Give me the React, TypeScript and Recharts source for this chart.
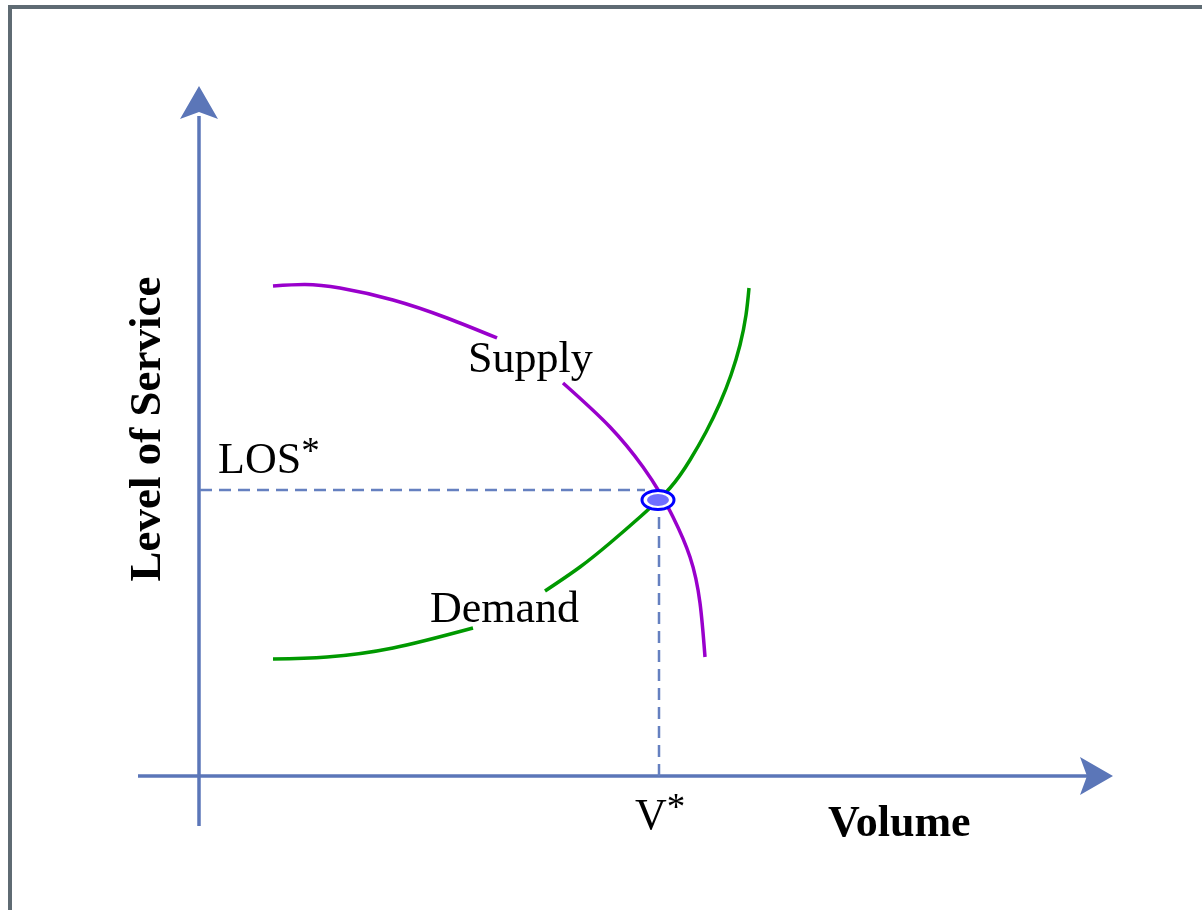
import React from "react";
import {
  ComposedChart,
  Line,
  XAxis,
  YAxis,
  ReferenceLine,
  ReferenceDot,
} from "recharts";

// volume (x) / level of service (y); null = hidden under the label
const supplyCurve = [
  { v: 7.3, los: 49.0 },
  { v: 10.5, los: 49.15 },
  { v: 14, los: 48.8 },
  { v: 19.3, los: 47.6 },
  { v: 24.7, los: 45.8 },
  { v: 29.7, los: 43.8 },
  { v: 33, los: null },
  { v: 36.3, los: 39.3 },
  { v: 41, los: 34.9 },
  { v: 44.3, los: 30.9 },
  { v: 46, los: 28.3 },
  { v: 47.3, los: 25.9 },
  { v: 49, los: 21.9 },
  { v: 50, los: 17.3 },
  { v: 50.5, los: 11.9 },
];

const demandCurve = [
  { v: 7.3, los: 11.7 },
  { v: 12.7, los: 11.9 },
  { v: 19.3, los: 12.8 },
  { v: 27.3, los: 14.8 },
  { v: 31, los: null },
  { v: 34.5, los: 18.5 },
  { v: 38, los: 20.9 },
  { v: 41, los: 23.3 },
  { v: 44, los: 25.9 },
  { v: 47, los: 28.8 },
  { v: 49, los: 31.6 },
  { v: 50.6, los: 34.4 },
  { v: 52, los: 37.3 },
  { v: 53.1, los: 40.1 },
  { v: 54, los: 43.1 },
  { v: 54.6, los: 46.1 },
  { v: 54.9, los: 48.8 },
];

const equilibrium = { v: 45.8, los: 27.6 };
const vStar = 45.9;
const losStar = 28.6;

const X_DOMAIN = [-7, 93];
const Y_DOMAIN = [-6, 70];

const AXIS = "#5b76b8";
const DASH = "#6580c0";
const FONT = "'Liberation Serif', 'Times New Roman', serif";

const upArrow = ({ cx, cy }: any) => (
  <polygon
    points={`${cx},${cy} ${cx + 19},${cy + 33} ${cx},${cy + 26} ${cx - 19},${cy + 33}`}
    fill={AXIS}
  />
);

const rightArrow = ({ cx, cy }: any) => (
  <polygon
    points={`${cx},${cy} ${cx - 33},${cy + 19} ${cx - 26},${cy} ${cx - 33},${cy - 19}`}
    fill={AXIS}
  />
);

const eqPoint = ({ cx, cy }: any) => (
  <g>
    <ellipse cx={cx} cy={cy} rx={16} ry={9.5} fill="#ffffff" stroke="#0000ff" strokeWidth={3} />
    <ellipse cx={cx} cy={cy} rx={11} ry={6} fill="#6f6fff" />
  </g>
);

const textAt =
  (
    label: string,
    opts: { bold?: boolean; star?: boolean; rotate?: boolean; anchor?: string; size?: number }
  ) =>
  ({ cx, cy }: any) =>
    (
      <text
        x={cx}
        y={cy}
        fontFamily={FONT}
        fontSize={opts.size || 44}
        fontWeight={opts.bold ? "bold" : "normal"}
        fill="#000"
        textAnchor={opts.anchor || "start"}
        transform={opts.rotate ? `rotate(-90 ${cx} ${cy})` : undefined}
      >
        {label}
        {opts.star && (
          <tspan fontSize={37} dy={-10}>
            *
          </tspan>
        )}
      </text>
    );

export default function App() {
  return (
    <div style={{ position: "relative", width: 1186, height: 894 }}>
      <div style={{ position: "fixed", left: 0, top: 0 }}>
        <ComposedChart
          width={1202}
          height={910}
          margin={{ top: 76, right: 72, bottom: 74, left: 130 }}
        >
          <XAxis type="number" dataKey="v" domain={X_DOMAIN} hide allowDataOverflow />
          <YAxis type="number" dataKey="los" domain={Y_DOMAIN} hide width={0} allowDataOverflow />

          {/* axes */}
          <ReferenceLine
            segment={[{ x: -6.2, y: 0 }, { x: 89, y: 0 }]}
            stroke={AXIS}
            strokeWidth={3.5}
          />
          <ReferenceLine
            segment={[{ x: -0.1, y: -5 }, { x: -0.1, y: 66 }]}
            stroke={AXIS}
            strokeWidth={3.5}
          />
          <ReferenceDot x={91.3} y={0} shape={rightArrow} />
          <ReferenceDot x={-0.1} y={69} shape={upArrow} />

          {/* equilibrium guides */}
          <ReferenceLine
            segment={[{ x: 0, y: losStar }, { x: 44.5, y: losStar }]}
            stroke={DASH}
            strokeWidth={2.5}
            strokeDasharray="12 7"
          />
          <ReferenceLine
            segment={[{ x: vStar, y: 0 }, { x: vStar, y: 26.6 }]}
            stroke={DASH}
            strokeWidth={2.5}
            strokeDasharray="12 7"
          />

          <Line
            data={supplyCurve}
            dataKey="los"
            type="natural"
            stroke="#9900cc"
            strokeWidth={3.5}
            dot={false}
            isAnimationActive={false}
          />
          <Line
            data={demandCurve}
            dataKey="los"
            type="natural"
            stroke="#009900"
            strokeWidth={3.5}
            dot={false}
            isAnimationActive={false}
          />

          <ReferenceDot x={equilibrium.v} y={equilibrium.los} shape={eqPoint} />

          {/* labels */}
          <ReferenceDot x={26.8} y={40.4} shape={textAt("Supply", {})} />
          <ReferenceDot x={23} y={15.4} shape={textAt("Demand", {})} />
          <ReferenceDot x={1.8} y={30.3} shape={textAt("LOS", { star: true })} />
          <ReferenceDot x={43.5} y={-5.3} shape={textAt("V", { star: true })} />
          <ReferenceDot x={62.8} y={-6} shape={textAt("Volume", { bold: true })} />
          <ReferenceDot
            x={-4}
            y={34.7}
            shape={textAt("Level of Service", {
              bold: true,
              rotate: true,
              anchor: "middle",
              size: 45,
            })}
          />
        </ComposedChart>
      </div>
      <div
        style={{
          position: "fixed",
          left: 8,
          top: 5,
          width: 1194,
          height: 905,
          boxSizing: "border-box",
          borderTop: "4px solid #5f6b73",
          borderLeft: "4px solid #5f6b73",
          pointerEvents: "none",
        }}
      />
    </div>
  );
}
